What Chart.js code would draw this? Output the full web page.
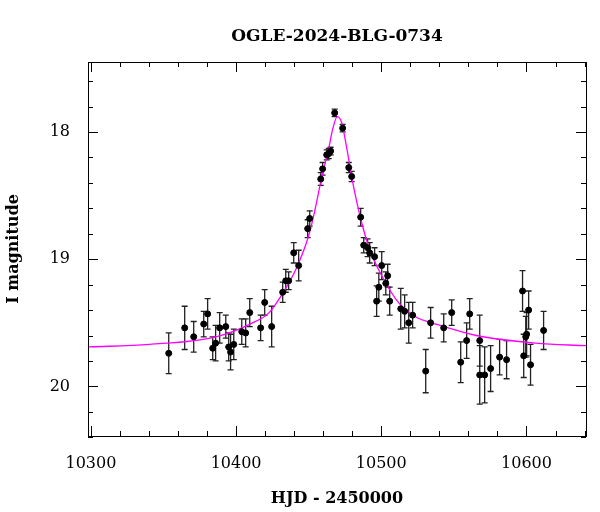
<!DOCTYPE html>
<html>
<head>
<meta charset="utf-8">
<script src="https://cdn.jsdelivr.net/npm/chart.js@4.4.1/dist/chart.umd.min.js"></script>
<style>
  html, body { margin: 0; padding: 0; background: #fff; }
  #wrap { width: 600px; height: 512px; }
</style>
</head>
<body>
<div id="wrap"><canvas id="lc"></canvas></div>
<script>
const titleText = 'OGLE-2024-BLG-0734';
const xTicks = [10300, 10400, 10500, 10600];
const yTicks = [18, 19, 20];

// observed points: HJD - 2450000, I mag, error
const obsHjd = [10353.6, 10364.6, 10370.8, 10377.7, 10380.4, 10383.9, 10385.9, 10388.7, 10392.9, 10394.9,
    10396.2, 10398.4, 10403.9, 10406.6, 10409.4, 10416.9, 10419.7, 10424.5, 10432.1, 10434.2,
    10436.2, 10439.7, 10443.1, 10449.3, 10450.7, 10458.3, 10459.6, 10462.4, 10463.8, 10465.1,
    10467.9, 10473.4, 10477.6, 10479.6, 10485.8, 10487.9, 10490.6, 10492.0, 10495.4, 10498.3,
    10496.8, 10500.3, 10503.1, 10504.4, 10505.8, 10513.4, 10516.1, 10518.9, 10521.6, 10530.6,
    10534.0, 10543.0, 10548.5, 10554.7, 10558.8, 10560.9, 10567.8, 10567.8, 10571.2, 10575.3,
    10581.5, 10586.3, 10597.3, 10598.1, 10599.5, 10600.1, 10601.5, 10602.8, 10611.8];
const obsMag = [19.74, 19.54, 19.61, 19.51, 19.43, 19.70, 19.66, 19.54, 19.53, 19.69,
    19.73, 19.67, 19.57, 19.58, 19.42, 19.54, 19.34, 19.53, 19.26, 19.17,
    19.17, 18.95, 19.05, 18.76, 18.68, 18.37, 18.29, 18.18, 18.17, 18.15,
    17.85, 17.97, 18.28, 18.35, 18.67, 18.89, 18.91, 18.95, 18.98, 19.22,
    19.33, 19.05, 19.19, 19.13, 19.33, 19.39, 19.41, 19.50, 19.44, 19.88,
    19.50, 19.54, 19.42, 19.81, 19.64, 19.43, 19.64, 19.91, 19.91, 19.86,
    19.77, 19.79, 19.25, 19.76, 19.61, 19.59, 19.40, 19.83, 19.56];
const obsErr = [0.16, 0.17, 0.12, 0.10, 0.12, 0.09, 0.14, 0.12, 0.09, 0.11,
    0.14, 0.12, 0.10, 0.11, 0.11, 0.10, 0.10, 0.16, 0.08, 0.09,
    0.07, 0.08, 0.12, 0.07, 0.06, 0.05, 0.05, 0.04, 0.04, 0.03,
    0.03, 0.03, 0.04, 0.04, 0.07, 0.06, 0.07, 0.08, 0.07, 0.11,
    0.12, 0.11, 0.09, 0.09, 0.11, 0.16, 0.13, 0.16, 0.10, 0.17,
    0.12, 0.11, 0.10, 0.16, 0.14, 0.12, 0.20, 0.23, 0.22, 0.18,
    0.14, 0.15, 0.16, 0.17, 0.16, 0.17, 0.15, 0.16, 0.15];

// fitted model
const modelHjd = [10298.5, 10340.3, 10386.1, 10409.6, 10422.8, 10432.0, 10441.2, 10450.4, 10455.5, 10458.5,
    10463.6, 10466.7, 10469.7, 10472.8, 10475.8, 10479.9, 10486.0, 10492.2, 10500.3, 10512.5,
    10524.8, 10535.0, 10565.5, 10606.3, 10641];
const modelMag = [19.69, 19.67, 19.61, 19.51, 19.42, 19.27, 19.08, 18.80, 18.55, 18.38,
    18.14, 17.97, 17.88, 17.93, 18.10, 18.37, 18.69, 18.93, 19.13, 19.35,
    19.46, 19.50, 19.60, 19.66, 19.68];

const serif = '"DejaVu Serif", "Liberation Serif", serif';

const obsPoints = obsHjd.map((x, i) => ({ x: x, y: obsMag[i], e: obsErr[i] }));
const modelPoints = modelHjd.map((x, i) => ({ x: x, y: modelMag[i] }));

const frameAndBars = {
    id: 'frameAndBars',
    beforeDatasetsDraw(chart) {
        const ctx = chart.ctx;
        const xs = chart.scales.x, ys = chart.scales.y;
        // error bars
        ctx.save();
        ctx.strokeStyle = '#222';
        ctx.lineWidth = 1.3;
        obsPoints.forEach(p => {
            const px = xs.getPixelForValue(p.x);
            const top = ys.getPixelForValue(p.y - p.e);
            const bot = ys.getPixelForValue(p.y + p.e);
            ctx.beginPath();
            ctx.moveTo(px, top); ctx.lineTo(px, bot);
            ctx.moveTo(px - 3, top); ctx.lineTo(px + 3, top);
            ctx.moveTo(px - 3, bot); ctx.lineTo(px + 3, bot);
            ctx.stroke();
        });
        ctx.restore();
    },
    afterDraw(chart) {
        const ctx = chart.ctx;
        const a = chart.chartArea;
        const xs = chart.scales.x, ys = chart.scales.y;
        ctx.save();
        ctx.strokeStyle = '#000';
        ctx.lineWidth = 1;
        ctx.strokeRect(a.left + 0.5, a.top + 0.5, a.right - a.left, a.bottom - a.top);
        ctx.beginPath();
        for (let v = 10300; v <= 10640; v += 20) {
            const px = Math.round(xs.getPixelForValue(v)) + 0.5;
            const len = (v % 100 === 0) ? 10 : 5;
            ctx.moveTo(px, a.bottom); ctx.lineTo(px, a.bottom - len);
            ctx.moveTo(px, a.top); ctx.lineTo(px, a.top + len);
        }
        for (let v = 17.6; v <= 20.4; v += 0.2) {
            const r = Math.round(v * 10) / 10;
            const py = Math.round(ys.getPixelForValue(r)) + 0.5;
            const len = (Math.abs(r - Math.round(r)) < 0.01) ? 10 : 5;
            ctx.moveTo(a.left, py); ctx.lineTo(a.left + len, py);
            ctx.moveTo(a.right, py); ctx.lineTo(a.right - len, py);
        }
        ctx.stroke();
        ctx.fillStyle = '#000';
        ctx.textAlign = 'center';
        ctx.font = 'bold 17px ' + serif;
        ctx.fillText(titleText, (a.left + a.right) / 2, 41);
        ctx.restore();
    }
};

new Chart(document.getElementById('lc').getContext('2d'), {
    type: 'scatter',
    data: {
        datasets: [
            {
                label: 'model',
                type: 'line',
                data: modelPoints,
                borderColor: '#ff00ff',
                borderWidth: 1.3,
                pointRadius: 0,
                cubicInterpolationMode: 'monotone',
                fill: false,
                order: 2
            },
            {
                label: 'OGLE',
                data: obsPoints,
                backgroundColor: '#000',
                borderColor: '#000',
                pointRadius: 3,
                order: 1
            }
        ]
    },
    options: {
        animation: false,
        responsive: true,
        maintainAspectRatio: false,
        layout: { padding: { top: 62, right: 14, left: 0, bottom: 0 } },
        plugins: { legend: { display: false }, tooltip: { enabled: false } },
        scales: {
            x: {
                type: 'linear',
                min: 10298,
                max: 10641,
                afterBuildTicks: s => { s.ticks = xTicks.map(v => ({ value: v })); },
                afterFit: s => { s.height = 76; },
                grid: { display: false },
                border: { display: false },
                ticks: { color: '#000', padding: 10, font: { family: serif, size: 16 },
                    callback: v => String(v) },
                title: { display: true, text: 'HJD - 2450000', color: '#000', padding: { top: 4 },
                    font: { family: serif, size: 16, weight: 'bold' } }
            },
            y: {
                type: 'linear',
                reverse: true,
                min: 17.45,
                max: 20.39,
                afterBuildTicks: s => { s.ticks = yTicks.map(v => ({ value: v })); },
                afterFit: s => { s.width = 88; },
                grid: { display: false },
                border: { display: false },
                ticks: { color: '#000', padding: 10, font: { family: serif, size: 16 } },
                title: { display: true, text: 'I magnitude', color: '#000',
                    font: { family: serif, size: 16, weight: 'bold' } }
            }
        }
    },
    plugins: [frameAndBars]
});
</script>
</body>
</html>
